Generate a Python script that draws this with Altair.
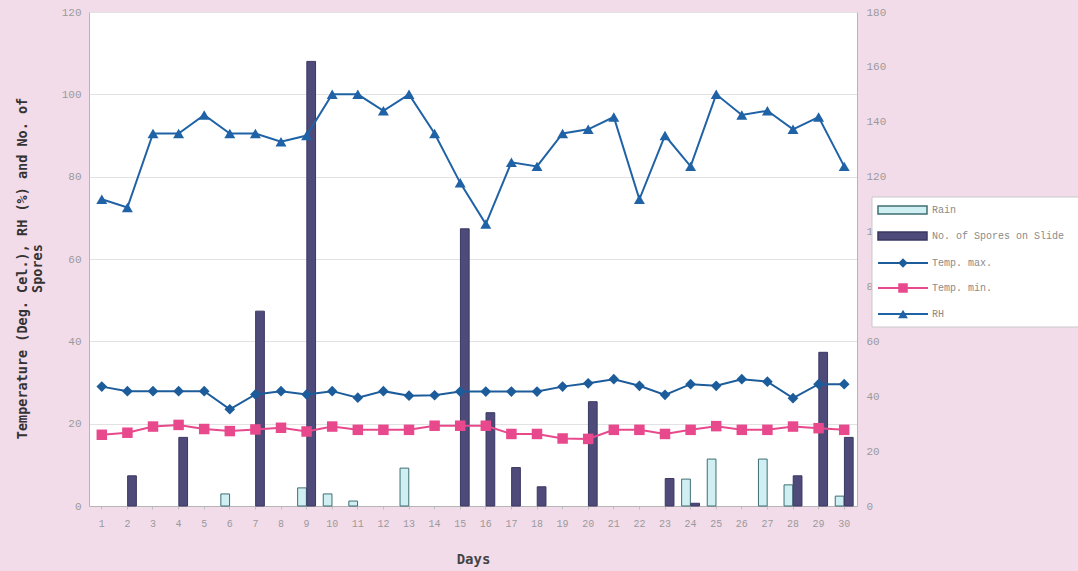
import altair as alt
import pandas as pd

# Daily weather readings and spore catch over a 30-day period
days = list(range(1, 31))
temp_max = [29.0, 27.9, 27.9, 27.9, 27.9, 23.5, 27.1, 27.9, 27.1, 27.9,
            26.3, 27.9, 26.8, 26.9, 27.8, 27.8, 27.8, 27.8, 29.0, 29.8,
            30.8, 29.2, 27.0, 29.6, 29.2, 30.8, 30.2, 26.2, 29.6, 29.6]
temp_min = [17.3, 17.8, 19.3, 19.7, 18.7, 18.2, 18.6, 19.0, 18.1, 19.3,
            18.5, 18.5, 18.5, 19.5, 19.5, 19.5, 17.5, 17.5, 16.4, 16.3,
            18.5, 18.5, 17.5, 18.5, 19.4, 18.5, 18.5, 19.3, 18.9, 18.5]
rh = [74.5, 72.5, 90.5, 90.5, 95.0, 90.5, 90.5, 88.5, 90.0, 100.0,
      100.0, 96.0, 100.0, 90.5, 78.5, 68.5, 83.5, 82.5, 90.5, 91.5,
      94.5, 74.5, 90.0, 82.5, 100.0, 95.0, 96.0, 91.5, 94.5, 82.5]
rain = [0, 0, 0, 0, 0, 4.4, 0, 0, 6.6, 4.4,
        1.8, 0, 13.8, 0, 0, 0, 0, 0, 0, 0,
        0, 0, 0, 9.8, 17.1, 0, 17.1, 7.7, 0, 3.6]
spores = [0, 11, 0, 25, 0, 0, 71, 0, 162, 0,
          0, 0, 0, 0, 101, 34, 14, 7, 0, 38,
          0, 0, 10, 1, 0, 0, 0, 11, 56, 25]

bar_series = ["Rain", "No. of Spores on Slide"]
line_series = ["Temp. max.", "Temp. min.", "RH"]
legend_labels = bar_series + line_series

BG = "#f3dcea"
RAIN_FILL, RAIN_STROKE = "#cfeff3", "#3f6d72"
SPORE_FILL, SPORE_STROKE = "#4e4b7a", "#3a3862"
TMAX_C, TMIN_C, RH_C = "#1d5c9b", "#e8498c", "#1f62a6"
FONT = "Liberation Mono"

W, H = 768, 494

lines_df = pd.DataFrame({"Day": days, "tmax": temp_max, "tmin": temp_min, "rh": rh})

bar_rows = []
for d, r, s in zip(days, rain, spores):
    if r > 0:
        bar_rows.append({"Day": d, "Series": bar_series[0], "Value": r})
    if s > 0:
        bar_rows.append({"Day": d, "Series": bar_series[1], "Value": s})
bars_df = pd.DataFrame(bar_rows)

x_enc = alt.X(
    "Day:O",
    scale=alt.Scale(domain=days, paddingInner=0.3, paddingOuter=0.15),
    axis=alt.Axis(
        title="Days", labelAngle=0, labelColor="#9a9a9a", labelFont=FONT,
        labelFontSize=10, labelPadding=9, tickSize=3, tickColor="#c0c0c0",
        domainColor="#b5b5b5", titleFont="DejaVu Sans Mono", titleFontSize=14,
        titleFontWeight="bold", titleColor="#444444", titlePadding=24,
    ),
)

left_axis = alt.Axis(
    orient="left", values=list(range(0, 121, 20)), grid=True, gridColor="#e2e2e2",
    labelColor="#9a9a9a", labelFont=FONT, labelFontSize=11, labelPadding=8,
    tickSize=0, domainColor="#b5b5b5",
    title=["Temperature (Deg. Cel.), RH (%) and No. of", "Spores"],
    titleFont="DejaVu Sans Mono", titleFontSize=13.5, titleFontWeight="bold",
    titleColor="#333333", titlePadding=17, titleLineHeight=15, titleY=256,
)

right_axis = alt.Axis(
    orient="right", values=list(range(0, 181, 20)), grid=False,
    labelColor="#9a9a9a", labelFont=FONT, labelFontSize=11, labelPadding=9,
    tickSize=0, domainColor="#b5b5b5", title=None,
)

bars = alt.Chart(bars_df).mark_bar(strokeWidth=1).encode(
    x=x_enc,
    xOffset=alt.XOffset("Series:N", sort=bar_series,
                        scale=alt.Scale(domain=bar_series, paddingInner=0.05)),
    y=alt.Y("Value:Q", scale=alt.Scale(domain=[0, 180], nice=False), axis=right_axis),
    color=alt.Color("Series:N", scale=alt.Scale(domain=bar_series, range=[RAIN_FILL, SPORE_FILL]), legend=None),
    stroke=alt.Stroke("Series:N", scale=alt.Scale(domain=bar_series, range=[RAIN_STROKE, SPORE_STROKE]), legend=None),
)


def series_line(field, color, shape, size):
    return alt.Chart(lines_df).mark_line(
        color=color, strokeWidth=2,
        point=alt.OverlayMarkDef(shape=shape, filled=True, size=size, color=color),
    ).encode(
        x=x_enc,
        y=alt.Y(f"{field}:Q", scale=alt.Scale(domain=[0, 120], nice=False), axis=left_axis),
    )


lines = alt.layer(
    series_line("tmax", TMAX_C, "diamond", 115),
    series_line("tmin", TMIN_C, "square", 110),
    series_line("rh", RH_C, "triangle-up", 120),
)

# Legend panel to the right of the plot
one = pd.DataFrame({"k": [0]})
rows_y = [198, 224, 251, 276, 302]
legend_layers = [
    alt.Chart(one).mark_rect(fill="white", stroke="#c9c9c9", strokeWidth=1).encode(
        x=alt.value(783), x2=alt.value(1000), y=alt.value(185), y2=alt.value(315)),
]
for ry, fill, stroke in zip(rows_y[:2], [RAIN_FILL, SPORE_FILL], [RAIN_STROKE, SPORE_STROKE]):
    legend_layers.append(
        alt.Chart(one).mark_rect(fill=fill, stroke=stroke, strokeWidth=1.5).encode(
            x=alt.value(789), x2=alt.value(838), y=alt.value(ry - 4), y2=alt.value(ry + 4)))
for ry, color, shape, size in zip(rows_y[2:], [TMAX_C, TMIN_C, RH_C],
                                  ["diamond", "square", "triangle-up"], [90, 90, 95]):
    legend_layers.append(
        alt.Chart(one).mark_rule(color=color, strokeWidth=1.8).encode(
            x=alt.value(789), x2=alt.value(839), y=alt.value(ry)))
    legend_layers.append(
        alt.Chart(one).mark_point(shape=shape, filled=True, size=size, color=color, opacity=1).encode(
            x=alt.value(814), y=alt.value(ry)))
for ry, label in zip(rows_y, legend_labels):
    legend_layers.append(
        alt.Chart(one).mark_text(align="left", baseline="middle", font=FONT, fontSize=10,
                                 color="#8a8a8a").encode(
            x=alt.value(843), y=alt.value(ry), text=alt.value(label)))

chart = alt.layer(bars, lines, *legend_layers).resolve_scale(
    y="independent"
).properties(
    width=W, height=H,
    autosize=alt.AutoSizeParams(type="none"),
    padding={"left": 89, "top": 12, "right": 1078 - 89 - W, "bottom": 571 - 12 - H},
    background=BG,
).configure_view(
    fill="white", stroke=None,
)

chart.save("out.html", embed_options={"renderer": "svg", "actions": False})
